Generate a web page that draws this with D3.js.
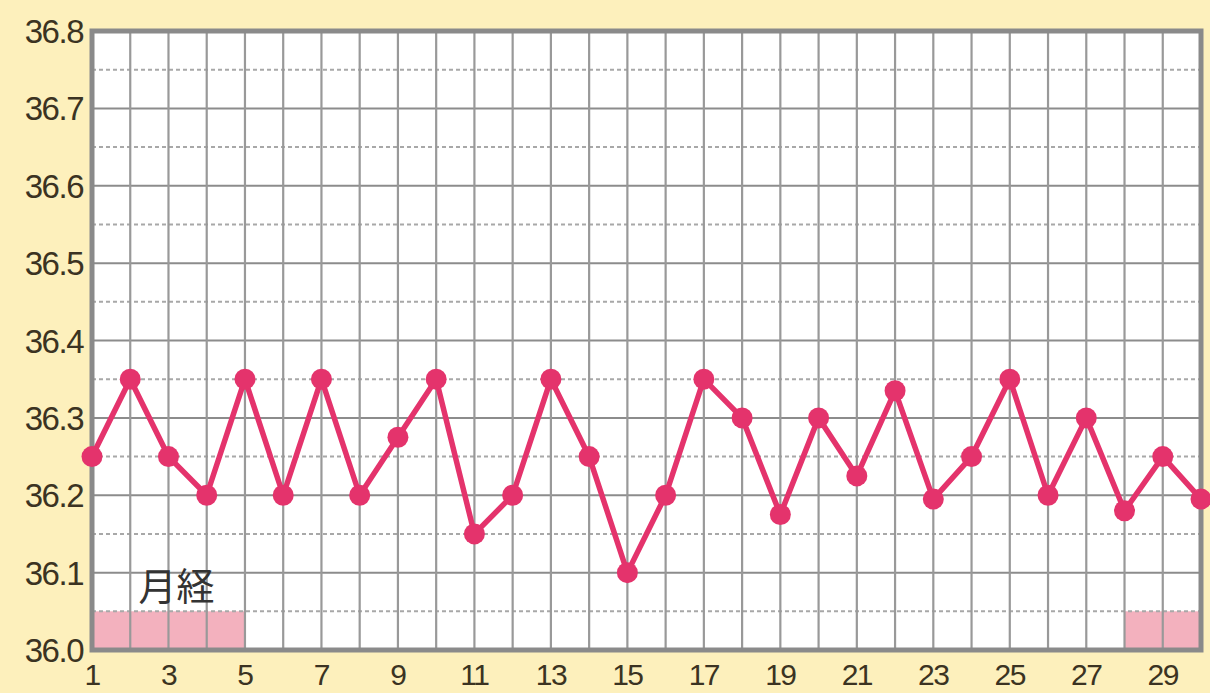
<!DOCTYPE html>
<html><head><meta charset="utf-8">
<script src="https://cdn.jsdelivr.net/npm/d3@7"></script>
<style>
html,body{margin:0;padding:0;background:#fdf0bc;}
svg{display:block;}
</style></head>
<body>
<svg id="chart" width="1210" height="693"></svg>
<script>
const days = d3.range(1, 31);
const temps = [36.25,36.35,36.25,36.2,36.35,36.2,36.35,36.2,36.275,36.35,
               36.15,36.2,36.35,36.25,36.1,36.2,36.35,36.3,36.175,36.3,
               36.225,36.335,36.195,36.25,36.35,36.2,36.3,36.18,36.25,36.195];
const yTicks = [36.0,36.1,36.2,36.3,36.4,36.5,36.6,36.7,36.8];
const yHalfTicks = [36.05,36.15,36.25,36.35,36.45,36.55,36.65,36.75];
const xTickLabels = [1,3,5,7,9,11,13,15,17,19,21,23,25,27,29];
const periodRanges = [[1,5],[28,30]];
const periodLabel = "月経";

const svg = d3.select("#chart");
const L = 92, R = 1201, T = 31, B = 650;
const x = d3.scaleLinear().domain([1,30]).range([L,R]);
const y = d3.scaleLinear().domain([36.0,36.8]).range([B,T]);

svg.append("rect").attr("x",L).attr("y",T).attr("width",R-L).attr("height",B-T).attr("fill","#fff");

periodRanges.forEach(([a,b])=>{
  svg.append("rect").attr("x",x(a)).attr("y",y(36.05)).attr("width",x(b)-x(a))
     .attr("height",y(36.0)-y(36.05)).attr("fill","#f3b1be");
});

svg.append("g").selectAll("line").data(yHalfTicks).join("line")
  .attr("x1",L).attr("x2",R).attr("y1",d=>y(d)).attr("y2",d=>y(d))
  .attr("stroke","#a8a8a8").attr("stroke-width",2).attr("stroke-dasharray","4,3");
svg.append("g").selectAll("line").data(yTicks).join("line")
  .attr("x1",L).attr("x2",R).attr("y1",d=>y(d)).attr("y2",d=>y(d))
  .attr("stroke","#8c8c8c").attr("stroke-width",2);
svg.append("g").selectAll("line").data(days).join("line")
  .attr("x1",d=>x(d)).attr("x2",d=>x(d)).attr("y1",T).attr("y2",B)
  .attr("stroke","#999").attr("stroke-width",2.2);

svg.append("rect").attr("x",L).attr("y",T).attr("width",R-L).attr("height",B-T)
  .attr("fill","none").attr("stroke","#8a8a8a").attr("stroke-width",5);

svg.append("text").attr("x",x(3)+8).attr("y",600).attr("text-anchor","middle")
  .attr("font-family","'Noto Sans CJK JP'").attr("font-size",38).attr("fill","#333")
  .text(periodLabel);

const line = d3.line().x((d,i)=>x(days[i])).y(d=>y(d));
svg.append("path").datum(temps).attr("d",line).attr("fill","none")
  .attr("stroke","#e4336c").attr("stroke-width",5.5).attr("stroke-linejoin","round");
svg.append("g").selectAll("circle").data(temps).join("circle")
  .attr("cx",(d,i)=>x(days[i])).attr("cy",d=>y(d)).attr("r",10.5).attr("fill","#e4336c");

const font = "'Liberation Sans',sans-serif";
svg.append("g").selectAll("text").data(yTicks).join("text")
  .attr("x",83).attr("y",d=>y(d)+12).attr("text-anchor","end")
  .attr("font-family",font).attr("font-size",33).attr("fill","#3b3322")
  .attr("letter-spacing",-1.5)
  .text(d=>d.toFixed(1));
svg.append("g").selectAll("text").data(xTickLabels).join("text")
  .attr("x",d=>x(d)).attr("y",685).attr("text-anchor","middle")
  .attr("font-family",font).attr("font-size",30).attr("fill","#3b3322")
  .attr("letter-spacing",-1.5)
  .text(d=>d);
</script>
</body></html>
